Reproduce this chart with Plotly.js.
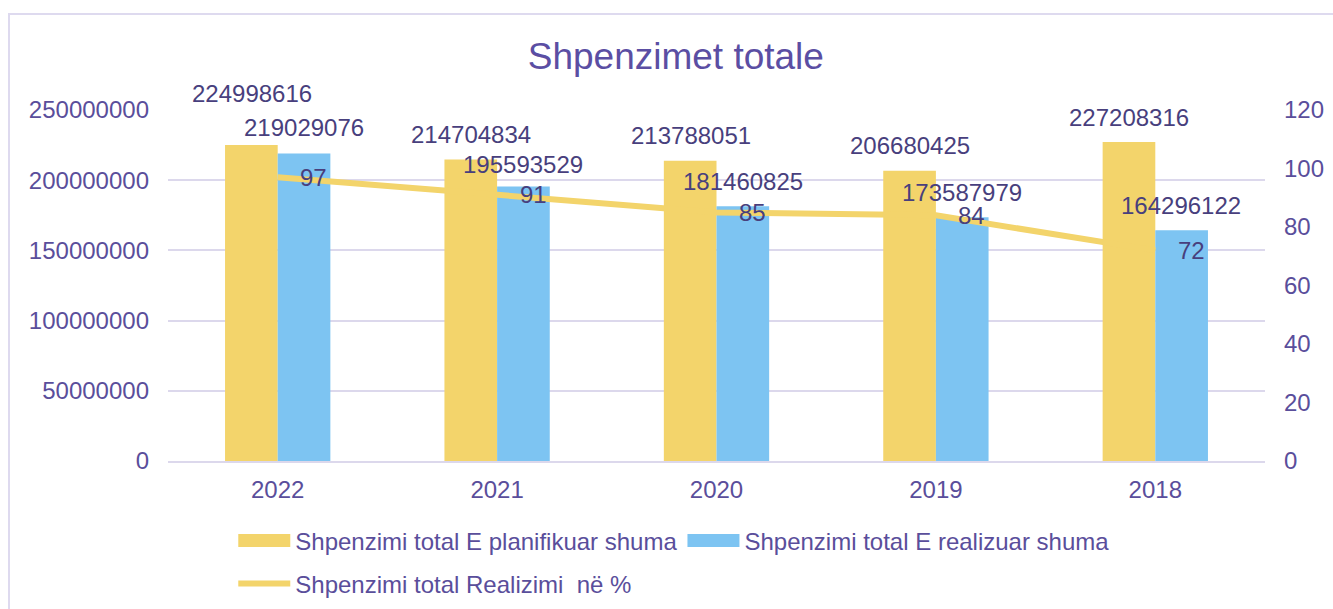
<!DOCTYPE html>
<html><head><meta charset="utf-8">
<script src="https://cdn.plot.ly/plotly-3.0.1.min.js"></script>
<style>
html,body{margin:0;padding:0;overflow:hidden;background:#fff;width:1333px;height:609px;}
#chart{position:absolute;left:0;top:0;width:1333px;height:609px;}
#frame{position:absolute;left:8px;top:13px;width:1400px;height:700px;border:2px solid #dedaef;box-sizing:border-box;pointer-events:none;}
</style></head><body>
<div id="chart"></div><div id="frame"></div>
<script>
// ---- data ----
const years = ['2022', '2021', '2020', '2019', '2018'];
const planned = [224998616, 214704834, 213788051, 206680425, 227208316];
const realized = [219029076, 195593529, 181460825, 173587979, 164296122];
const realizationPct = [97, 91, 85, 84, 72];
const seriesNames = ['Shpenzimi total E planifikuar shuma', 'Shpenzimi total E realizuar shuma', 'Shpenzimi total Realizimi  në %'];
const chartTitle = 'Shpenzimet totale';

// ---- style ----
const FONT = 'Liberation Sans, Arial, sans-serif';
const TICK_COLOR = '#5a4e9b';
const LABEL_COLOR = '#483f7d';
const YELLOW = '#F3D46B';
const BLUE = '#7DC4F2';
const GRID = '#dcd8ec';
const plannedLabelShift = [52, 25, 25, 25, 25];
const realizedLabelShift = [26, 22, 25, 25, 25];

const traces = [
  {type: 'bar', name: seriesNames[0], x: years, y: planned, marker: {color: YELLOW}, legend: 'legend'},
  {type: 'bar', name: seriesNames[1], x: years, y: realized, marker: {color: BLUE}, legend: 'legend'},
  {type: 'scatter', mode: 'lines', name: seriesNames[2], x: years, y: realizationPct, yaxis: 'y2',
   line: {color: YELLOW, width: 6}, legend: 'legend2'}
];

// annotations use category index (position of the category on the axis)
const annotations = [];
years.forEach((yr, i) => {
  annotations.push({x: i, y: planned[i], xref: 'x', yref: 'y', text: String(planned[i]), showarrow: false,
    xshift: -26, yshift: plannedLabelShift[i], yanchor: 'middle', font: {family: FONT, size: 24, color: LABEL_COLOR}});
  annotations.push({x: i, y: realized[i], xref: 'x', yref: 'y', text: String(realized[i]), showarrow: false,
    xshift: 26, yshift: realizedLabelShift[i], yanchor: 'middle', font: {family: FONT, size: 24, color: LABEL_COLOR}});
  annotations.push({x: i, y: realizationPct[i], xref: 'x', yref: 'y2', text: String(realizationPct[i]), showarrow: false,
    xshift: 36, yshift: 0, yanchor: 'middle', font: {family: FONT, size: 24, color: LABEL_COLOR}});
});

const legendBase = {orientation: 'h', xref: 'container', yref: 'container', xanchor: 'left', yanchor: 'middle',
  font: {family: FONT, size: 24, color: TICK_COLOR}, itemwidth: 52, bgcolor: 'rgba(0,0,0,0)', tracegroupgap: 0};

const layout = {
  width: 1333, height: 609,
  margin: {l: 168, r: 68, t: 110, b: 148},
  paper_bgcolor: '#fff', plot_bgcolor: '#fff',
  font: {family: FONT, size: 24, color: TICK_COLOR},
  title: {text: chartTitle, xref: 'container', yref: 'container', x: 0.507, y: 0.908, xanchor: 'center', yanchor: 'middle',
    font: {family: FONT, size: 37, color: '#5b4ea3'}},
  barmode: 'group', bargap: 0.52, bargroupgap: 0,
  xaxis: {type: 'category', range: [-0.5, years.length - 0.5], showgrid: false, showline: true, linecolor: GRID, linewidth: 2, ticks: '',
    tickfont: {family: FONT, size: 24, color: TICK_COLOR}, ticklabelstandoff: 6},
  yaxis: {range: [0, 250000000], dtick: 50000000, tickformat: 'd', showgrid: true, gridcolor: GRID, gridwidth: 2,
    zeroline: false, showline: false, ticks: '', tickfont: {family: FONT, size: 24, color: TICK_COLOR}, ticklabelstandoff: 18},
  yaxis2: {overlaying: 'y', side: 'right', range: [0, 120], dtick: 20, showgrid: false, zeroline: false, showline: false,
    ticks: '', tickfont: {family: FONT, size: 24, color: TICK_COLOR}, ticklabelstandoff: 18},
  showlegend: true,
  legend: Object.assign({}, legendBase, {x: 0.175, y: 1 - 541 / 609}),
  legend2: Object.assign({}, legendBase, {x: 0.175, y: 1 - 584 / 609}),
  annotations: annotations
};

function widenLegendBars(gd) {
  gd.querySelectorAll('g.legendpoints path').forEach(p => {
    const d = p.getAttribute('d') || '';
    if (/^M6,6H-6V-6H6Z$/.test(d.replace(/\s/g, ''))) p.setAttribute('d', 'M26,6.5H-26V-6.5H26Z');
  });
}
Plotly.newPlot('chart', traces, layout, {displayModeBar: false, staticPlot: true}).then(gd => {
  widenLegendBars(gd);
  setTimeout(() => widenLegendBars(gd), 50);
});
</script>
</body></html>
